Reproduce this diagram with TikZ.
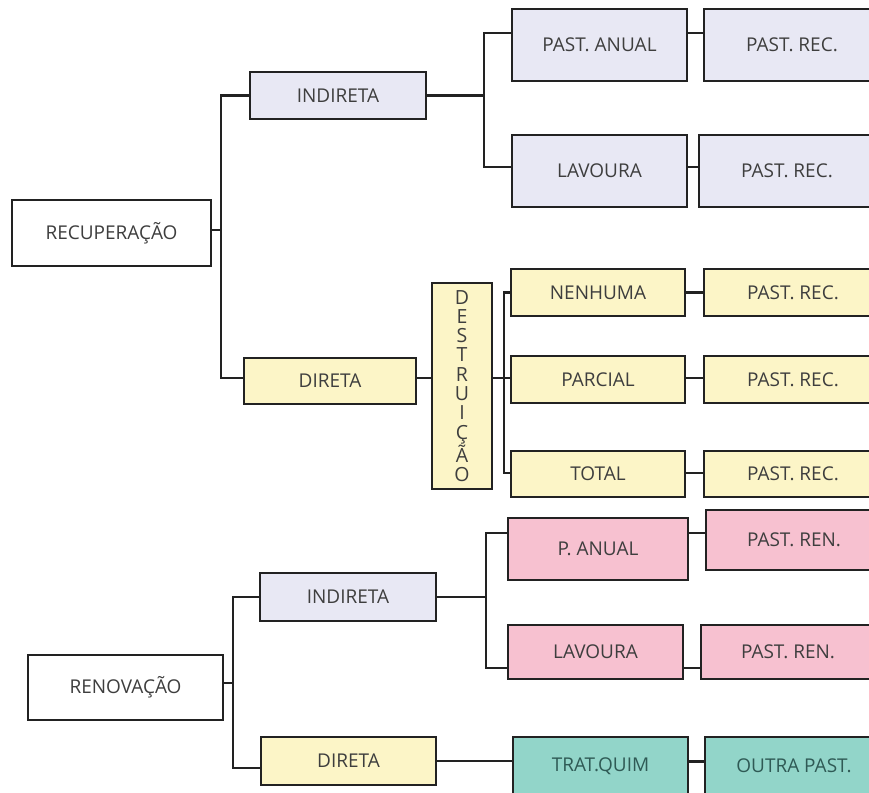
\documentclass[tikz,border=0pt]{standalone}
\usepackage{fontspec}
\setmainfont{Open Sans}
\definecolor{bordc}{HTML}{222222}
\definecolor{txtc}{HTML}{3E3E3E}
\definecolor{lavc}{HTML}{E8E8F4}
\definecolor{yelc}{HTML}{FCF5C7}
\definecolor{pinkc}{HTML}{F7C1D0}
\definecolor{tealc}{HTML}{92D5C9}
\definecolor{tealtxt}{HTML}{2F5A55}
\begin{document}
\begin{tikzpicture}[x=1pt,y=-1pt,
  bx/.style={draw=bordc, line width=2.6pt, inner sep=0pt, text=txtc,
    font=\fontsize{19}{22}\selectfont},
  lavbox/.style={bx, fill=lavc},
  yelbox/.style={bx, fill=yelc},
  pinkbox/.style={bx, fill=pinkc},
  tealbox/.style={bx, fill=tealc, text=tealtxt},
  whitebox/.style={bx, fill=white},
  ln/.style={draw=bordc, line width=2.2pt}]
\useasboundingbox (0,0) rectangle (869,792);
\clip (0,0) rectangle (869,792);
\fill[white] (0,0) rectangle (869,792);

% Recuperacao
\node[whitebox, minimum width=199pt, minimum height=66pt] (rec) at (111.5,233) {RECUPERAÇÃO};
\node[lavbox, minimum width=176pt, minimum height=47pt] (ind1) at (338,95.5) {INDIRETA};
\node[yelbox, minimum width=172pt, minimum height=46pt] (dir1) at (330,381) {DIRETA};
\node[lavbox, minimum width=175pt, minimum height=72pt] (pa) at (599.5,45) {PAST. ANUAL};
\node[lavbox, minimum width=176pt, minimum height=72pt] (pr1) at (792,45) {PAST. REC.};
\node[lavbox, minimum width=175pt, minimum height=72pt] (lav1) at (599.5,171) {LAVOURA};
\node[lavbox, minimum width=176pt, minimum height=72pt] (pr2) at (787,171) {PAST. REC.};
\node[yelbox, minimum width=60pt, minimum height=206pt, align=center,
  font=\fontsize{19.5}{19.3}\selectfont] (des) at (462,386)
  {D\\E\\S\\T\\R\\U\\I\\Ç\\Ã\\O};
\node[yelbox, minimum width=174pt, minimum height=47pt] (nen) at (598,292.5) {NENHUMA};
\node[yelbox, minimum width=178pt, minimum height=47pt] (pr3) at (793,292.5) {PAST. REC.};
\node[yelbox, minimum width=174pt, minimum height=47pt] (par) at (598,379.5) {PARCIAL};
\node[yelbox, minimum width=178pt, minimum height=47pt] (pr4) at (793,379.5) {PAST. REC.};
\node[yelbox, minimum width=174pt, minimum height=46pt] (tot) at (598,474) {TOTAL};
\node[yelbox, minimum width=178pt, minimum height=46pt] (pr5) at (793,474) {PAST. REC.};

% Renovacao
\node[whitebox, minimum width=195pt, minimum height=65pt] (ren) at (125.5,687.5) {RENOVAÇÃO};
\node[lavbox, minimum width=176pt, minimum height=48pt] (ind2) at (348,597) {INDIRETA};
\node[yelbox, minimum width=175pt, minimum height=48pt] (dir2) at (348.5,761) {DIRETA};
\node[pinkbox, minimum width=180pt, minimum height=62pt] (pan) at (598,549) {P. ANUAL};
\node[pinkbox, minimum width=176pt, minimum height=60pt] (prn1) at (794,540) {PAST. REN.};
\node[pinkbox, minimum width=175pt, minimum height=54pt] (lav2) at (595.5,652) {LAVOURA};
\node[pinkbox, minimum width=174pt, minimum height=54pt] (prn2) at (788,652) {PAST. REN.};
\node[tealbox, minimum width=175pt, minimum height=58pt] (tq) at (600.5,766) {TRAT.QUIM};
\node[tealbox, minimum width=178pt, minimum height=58pt] (op) at (794,766) {OUTRA PAST.};

% connectors - recuperacao
\draw[ln] ([yshift=3pt]rec.east) -- ++(9,0) |- (ind1.west);
\draw[ln] ([yshift=3pt]rec.east) -- ++(9,0) |- ([yshift=3pt]dir1.west);
\draw[ln] (ind1.east) -- ++(57,0) |- ([yshift=12pt]pa.west);
\draw[ln] (ind1.east) -- ++(57,0) |- ([yshift=4pt]lav1.west);
\draw[ln] ([yshift=12pt]pa.east) -- ([yshift=12pt]pr1.west);
\draw[ln] ([yshift=4pt]lav1.east) -- ([yshift=4pt]pr2.west);
\draw[ln] ([yshift=3pt]dir1.east) -- ([yshift=8pt]des.west);
\draw[ln] ([yshift=8pt]des.east) -- ++(11,0) |- (nen.west);
\draw[ln] ([yshift=8pt]des.east) -- ++(11,0) |- ([yshift=1.5pt]par.west);
\draw[ln] ([yshift=8pt]des.east) -- ++(11,0) |- ([yshift=1pt]tot.west);
\draw[ln] (nen.east) -- (pr3.west);
\draw[ln] ([yshift=1.5pt]par.east) -- ([yshift=1.5pt]pr4.west);
\draw[ln] ([yshift=1pt]tot.east) -- ([yshift=1pt]pr5.west);

% connectors - renovacao
\draw[ln] ([yshift=4.5pt]ren.east) -- ++(9,0) |- (ind2.west);
\draw[ln] ([yshift=4.5pt]ren.east) -- ++(9,0) |- ([yshift=-7pt]dir2.west);
\draw[ln] (ind2.east) -- ++(49,0) |- ([yshift=16pt]pan.west);
\draw[ln] (ind2.east) -- ++(49,0) |- ([yshift=-16pt]lav2.west);
\draw[ln] ([yshift=16pt]pan.east) -- ([yshift=7pt]prn1.west);
\draw[ln] ([yshift=-16pt]lav2.east) -- ([yshift=-16pt]prn2.west);
\draw[ln] (dir2.east) -- ([yshift=5pt]tq.west);
\draw[ln] ([yshift=4.5pt]tq.east) -- ([yshift=4.5pt]op.west);
\end{tikzpicture}
\end{document}
